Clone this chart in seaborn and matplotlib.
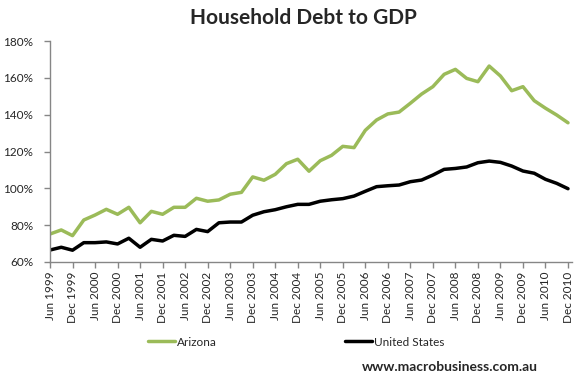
import numpy as np
import pandas as pd
import matplotlib
matplotlib.use("Agg")
import matplotlib.pyplot as plt
import seaborn as sns
from matplotlib.ticker import FuncFormatter

# Quarterly household debt to GDP, Jun 1999 - Dec 2010 (%)
quarters = []
for yr in range(1999, 2011):
    for m in ["Mar", "Jun", "Sep", "Dec"]:
        if yr == 1999 and m == "Mar":
            continue
        quarters.append(f"{m} {yr}")

arizona = [75.2, 77.4, 74.3, 82.8, 85.5, 88.6, 85.9, 89.7, 81.3, 87.5,
           85.9, 89.7, 89.7, 94.6, 93.0, 93.7, 96.8, 97.8, 106.2, 104.4,
           107.6, 113.4, 115.8, 109.3, 115.0, 117.9, 122.8, 122.1, 131.5, 137.1,
           140.4, 141.4, 146.2, 151.2, 155.2, 161.9, 164.6, 159.7, 157.9, 166.4,
           161.0, 153.0, 155.2, 147.6, 143.5, 139.8, 135.6]
united_states = [66.5, 68.0, 66.4, 70.5, 70.5, 70.9, 69.8, 72.9, 68.0, 72.3,
                 71.4, 74.5, 73.9, 77.7, 76.5, 81.3, 81.7, 81.7, 85.4, 87.3,
                 88.4, 90.0, 91.3, 91.3, 93.0, 93.8, 94.4, 95.8, 98.4, 100.9,
                 101.4, 101.8, 103.6, 104.5, 107.2, 110.3, 110.8, 111.6, 113.9, 114.8,
                 114.1, 112.1, 109.4, 108.2, 104.9, 102.7, 99.8]

df = pd.DataFrame({
    "idx": list(range(len(quarters))) * 2,
    "value": arizona + united_states,
    "series": ["Arizona"] * len(arizona) + ["United States"] * len(united_states),
})

sns.set_style("white")
plt.rcParams["font.family"] = ["Lato", "DejaVu Sans"]

fig = plt.figure(figsize=(5.81, 3.79), dpi=100)
ax = fig.add_axes([50 / 581, 1 - 262 / 379, 522 / 581, 221 / 379])

sns.lineplot(data=df, x="idx", y="value", hue="series",
             palette={"Arizona": "#9BBB59", "United States": "#000000"},
             linewidth=2.5, ax=ax, legend=False)

ax.set_xlim(0, 46 * 522 / 518)
ax.set_ylim(60, 180)
ax.set_yticks(range(60, 181, 20))
ax.yaxis.set_major_formatter(FuncFormatter(lambda v, p: f"{int(v)}%"))
tick_pos = list(range(0, len(quarters), 2))
ax.set_xticks(tick_pos)
ax.set_xticklabels([quarters[i] for i in tick_pos], rotation=90)
ax.set_xlabel("")
ax.set_ylabel("")

for s in ["top", "right"]:
    ax.spines[s].set_visible(False)
for s in ["left", "bottom"]:
    ax.spines[s].set_color("#868686")
    ax.spines[s].set_linewidth(1.0)
ax.tick_params(axis="y", direction="out", length=4, width=1, color="#868686",
               labelsize=8.5, pad=8, left=True)
ax.tick_params(axis="x", direction="out", length=4, width=1, color="#868686",
               labelsize=8.5, pad=3, bottom=True)

fig.text(303 / 581, 1 - 18 / 379, "Household Debt to GDP", ha="center", va="center",
         fontsize=15, fontweight="bold")

handles = [plt.Line2D([], [], color="#9BBB59", lw=2.5),
           plt.Line2D([], [], color="#000000", lw=2.5)]
fig.legend(handles, ["Arizona", "United States"], loc="center left",
           bbox_to_anchor=(148 / 581, 1 - 342 / 379), ncol=2, frameon=False,
           fontsize=8.5, handlelength=2.3, handletextpad=0.17, columnspacing=10.8,
           borderpad=0, borderaxespad=0)

fig.text(450 / 581, 1 - 367 / 379, "www.macrobusiness.com.au", ha="center",
         va="center", fontsize=10, fontweight="bold")

fig.savefig("out.png", dpi=100)
